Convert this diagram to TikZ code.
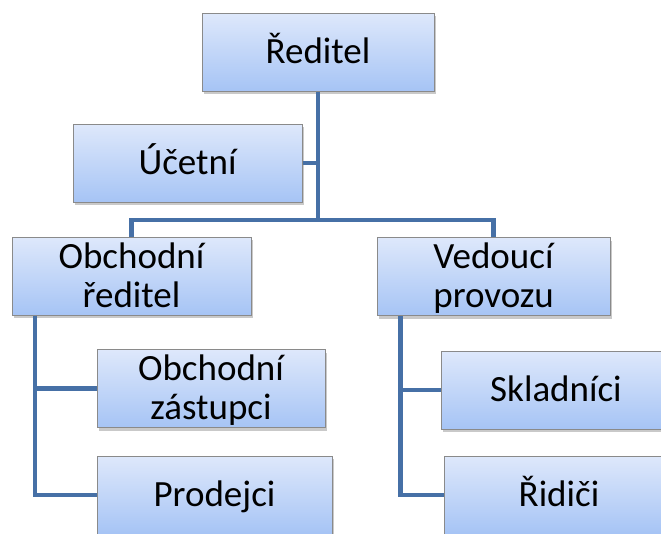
\documentclass[tikz,border=0pt]{standalone}
\usepackage{fontspec}
\setmainfont{Carlito}
\usetikzlibrary{shadows}
\definecolor{boxtop}{HTML}{DEE8FB}
\definecolor{boxbot}{HTML}{A6C4F5}
\definecolor{boxborder}{HTML}{8A8A8A}
\definecolor{linkblue}{HTML}{4670A6}
\tikzset{
  box/.style={draw=boxborder, line width=1pt, top color=boxtop, bottom color=boxbot,
    inner sep=0pt, minimum height=78pt,
    font=\fontsize{37}{39}\selectfont,
    drop shadow={shadow xshift=1.5pt, shadow yshift=-3pt, opacity=0.3, fill=black!70}},
  oneline/.style={text height=23pt, text depth=0pt},
  twoline/.style={align=center, text height=62pt, text depth=0pt},
  link/.style={draw=linkblue, line width=4.5pt}
}
\begin{document}
\begin{tikzpicture}[x=1pt, y=-1pt]
\useasboundingbox (0,0) rectangle (661,533);
\clip (0,0) rectangle (661,533);
% boxes
\node[box, oneline, minimum width=232pt] (R)  at (318,52)    {Ředitel};
\node[box, oneline, minimum width=229pt] (U)  at (187.5,163) {Účetní};
\node[box, twoline, minimum width=239pt] (OR) at (131.5,276) {Obchodní\\ředitel};
\node[box, twoline, minimum width=233pt] (VP) at (493.5,276.5) {Vedoucí\\provozu};
\node[box, twoline, minimum width=228pt] (OZ) at (211,388.5) {Obchodní\\zástupci};
\node[box, oneline, minimum width=235pt] (P)  at (214.5,495) {Prodejci};
\node[box, oneline, minimum width=230pt] (S)  at (556,390)   {Skladníci};
\node[box, oneline, minimum width=230pt] (Ri) at (559,495)   {Řidiči};
% connectors
\coordinate (jR) at (318,220);
\draw[link] (R.south) -- (jR);
\draw[link] (U.east) -- (U.east -| R.south);
\draw[link] (OR.north) |- (jR) -| (VP.north);
\coordinate (ORv) at ([xshift=23.5pt]OR.south west);
\coordinate (VPv) at ([xshift=24pt]VP.south west);
\draw[link] (ORv) |- (OZ.west);
\draw[link] (ORv) |- (P.west);
\draw[link] (VPv) |- (S.west);
\draw[link] (VPv) |- (Ri.west);
\end{tikzpicture}
\end{document}
